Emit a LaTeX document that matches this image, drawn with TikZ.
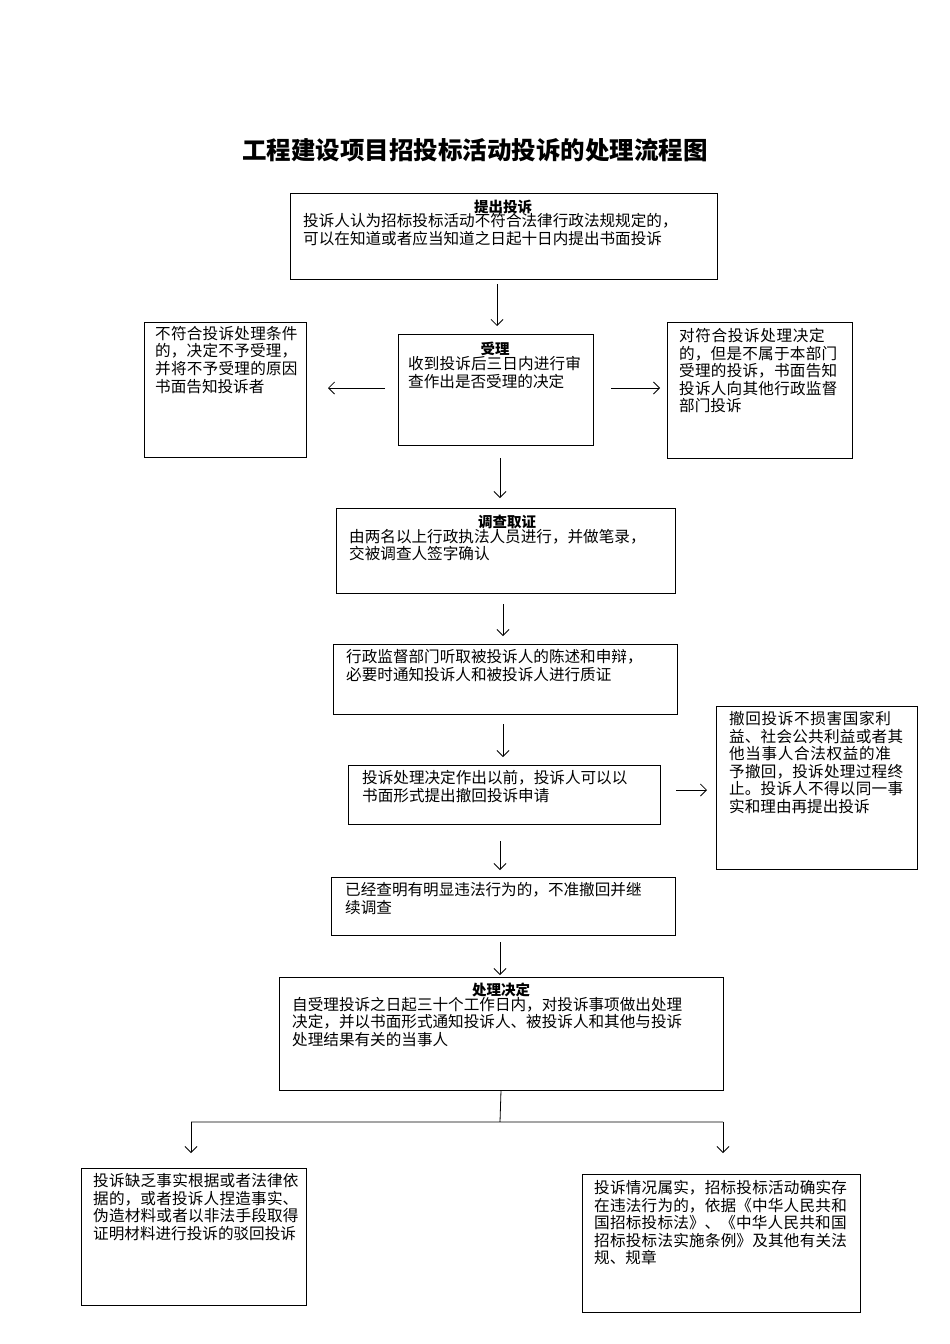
\documentclass[tikz,border=0pt]{standalone}
\usepackage{fontspec}
\setmainfont{Noto Sans CJK SC}
\XeTeXlinebreaklocale "zh"
\XeTeXlinebreakskip=0pt plus 1pt
\usetikzlibrary{arrows.meta}
\begin{document}
\begin{tikzpicture}[x=1pt,y=-1pt,
 box/.style={draw,line width=0.6pt,inner sep=0},
 txt/.style={anchor=north west,align=left,inner sep=0,font=\fontsize{15.6}{17.6}\selectfont},
 hd/.style={inner sep=0,font=\bfseries\fontsize{14.5}{16}\selectfont},
 arr/.style={-{Straight Barb[length=6pt,width=12pt]},line width=0.8pt}]
\useasboundingbox (0,0) rectangle (950,1344);
\node[font=\bfseries\fontsize{24.5}{26}\selectfont] (title) at (475,150) {工程建设项目招投标活动投诉的处理流程图};
\newcommand{\bx}[5]{\node[box,minimum width={#4-#2},minimum height={#5-#3}] (#1) at ({(#2+#4)/2},{(#3+#5)/2}) {};}
\bx{b1}{290}{193}{717}{279}
\node[hd] at (503,207) {提出投诉};
\node[txt] at (303,213) {投诉人认为招标投标活动不符合法律行政法规规定的，\\可以在知道或者应当知道之日起十日内提出书面投诉};
\bx{b2}{398}{334}{593}{445}
\node[hd] at (495,349) {受理};
\node[txt,text width=176pt] at (408,356) {收到投诉后三日内进行审查作出是否受理的决定};
\bx{bl}{144}{322}{306}{457}
\node[txt,text width=150pt] at (155,326) {不符合投诉处理条件的，决定不予受理，并将不予受理的原因书面告知投诉者};
\bx{br}{667}{322}{852}{458}
\node[txt,text width=166pt] at (679,328) {对符合投诉处理决定的，但是不属于本部门受理的投诉，书面告知投诉人向其他行政监督部门投诉};
\bx{b3}{336}{508}{675}{593}
\node[hd] at (507,522) {调查取证};
\node[txt] at (349,529) {由两名以上行政执法人员进行，并做笔录，\\交被调查人签字确认};
\bx{b4}{333}{644}{677}{714}
\node[txt] at (346,649) {行政监督部门听取被投诉人的陈述和申辩，\\必要时通知投诉人和被投诉人进行质证};
\bx{b5}{348}{765}{660}{824}
\node[txt] at (362,770) {投诉处理决定作出以前，投诉人可以以\\书面形式提出撤回投诉申请};
\bx{b5r}{716}{706}{917}{869}
\node[txt,text width=182pt] at (729,711) {撤回投诉不损害国家利益、社会公共利益或者其他当事人合法权益的准予撤回，投诉处理过程终止。投诉人不得以同一事实和理由再提出投诉};
\bx{b6}{331}{877}{675}{935}
\node[txt] at (345,882) {已经查明有明显违法行为的，不准撤回并继\\续调查};
\bx{b7}{279}{977}{723}{1090}
\node[hd] at (501,990) {处理决定};
\node[txt] at (292,997) {自受理投诉之日起三十个工作日内，对投诉事项做出处理\\决定，并以书面形式通知投诉人、被投诉人和其他与投诉\\处理结果有关的当事人};
\bx{b8}{81}{1168}{306}{1305}
\node[txt,text width=212pt] at (93,1173) {投诉缺乏事实根据或者法律依据的，或者投诉人捏造事实、伪造材料或者以非法手段取得证明材料进行投诉的驳回投诉};
\bx{b9}{582}{1174}{860}{1312}
\node[txt,text width=260pt] at (594,1180) {投诉情况属实，招标投标活动确实存在违法行为的，依据《中华人民共和国招标投标法》、《中华人民共和国招标投标法实施条例》及其他有关法规、规章};
\coordinate (j) at (500,1122);
\coordinate (jl) at (191,1122);
\coordinate (jr) at (723,1122);
\draw[arr] (b1.south -| 497,0) ++(0,5) -- (497,326);
\draw[arr] (385,388) -- (328,388);
\draw[arr] (611,388) -- (660,388);
\draw[arr] (500,458) -- (500,498);
\draw[arr] (503,604) -- (503,636);
\draw[arr] (503,724) -- (503,757);
\draw[arr] (676,790) -- (707,790);
\draw[arr] (500,841) -- (500,870);
\draw[arr] (500,942) -- (500,975);
\draw[line width=0.8pt] (b7.south) -- (j) (jl) -- (jr);
\draw[arr] (jl) -- (191,1153);
\draw[arr] (jr) -- (723,1153);
\end{tikzpicture}
\end{document}
